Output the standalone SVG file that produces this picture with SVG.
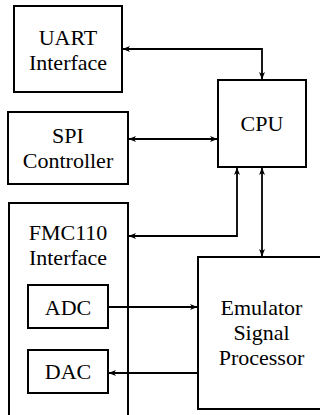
<svg xmlns="http://www.w3.org/2000/svg" width="320" height="415" viewBox="0 0 320 415">
  <style>
    .box { fill: #fff; stroke: #000; stroke-width: 2; }
    .lbl { font-size: 22px; fill: #000; text-anchor: middle; }
    .wire { fill: none; stroke: #000; stroke-width: 1.8; }
    .both { marker-start: url(#tip); marker-end: url(#tip); }
    .one { marker-end: url(#tip); }
  </style>
  <defs>
    <marker id="tip" viewBox="-8 -4 9 8" refX="0" refY="0" markerWidth="9" markerHeight="8" markerUnits="userSpaceOnUse" orient="auto-start-reverse">
      <path d="M0.5,0 L-7,-3 L-5,0 L-7,3 Z" fill="#000"/>
    </marker>
  </defs>
  <rect width="320" height="415" fill="#fff"/>

  <g font-family="'Liberation Serif', 'DejaVu Serif', serif">
  <g id="uart">
    <rect class="box" x="14" y="6" width="108" height="86"/>
    <text class="lbl" x="68" y="45">UART</text>
    <text class="lbl" x="68" y="70">Interface</text>
  </g>

  <g id="spi">
    <rect class="box" x="8" y="112" width="120" height="72"/>
    <text class="lbl" x="68" y="143">SPI</text>
    <text class="lbl" x="68" y="168">Controller</text>
  </g>

  <g id="cpu">
    <rect class="box" x="218" y="80" width="88" height="87"/>
    <text class="lbl" x="262" y="131">CPU</text>
  </g>

  <g id="fmc110">
    <rect class="box" x="9" y="203" width="119" height="225"/>
    <text class="lbl" x="68" y="240">FMC110</text>
    <text class="lbl" x="68" y="265">Interface</text>
  </g>

  <g id="adc">
    <rect class="box" x="28" y="285" width="80" height="43"/>
    <text class="lbl" x="68" y="315">ADC</text>
  </g>

  <g id="dac">
    <rect class="box" x="28" y="350" width="80" height="43"/>
    <text class="lbl" x="68" y="379">DAC</text>
  </g>

  <g id="esp">
    <rect class="box" x="198" y="257" width="127" height="152"/>
    <text class="lbl" x="261.5" y="315">Emulator</text>
    <text class="lbl" x="261.5" y="340">Signal</text>
    <text class="lbl" x="261.5" y="365">Processor</text>
  </g>
  </g>

  <g id="connectors">
    <path class="wire both" d="M123,49 H262 V79"/>
    <path class="wire both" d="M129,139 H217"/>
    <path class="wire both" d="M129,236 H237 V168"/>
    <path class="wire both" d="M262,168 V256"/>
    <path class="wire one" d="M109,307 H197"/>
    <path class="wire one" d="M198,373 H109"/>
  </g>
</svg>
